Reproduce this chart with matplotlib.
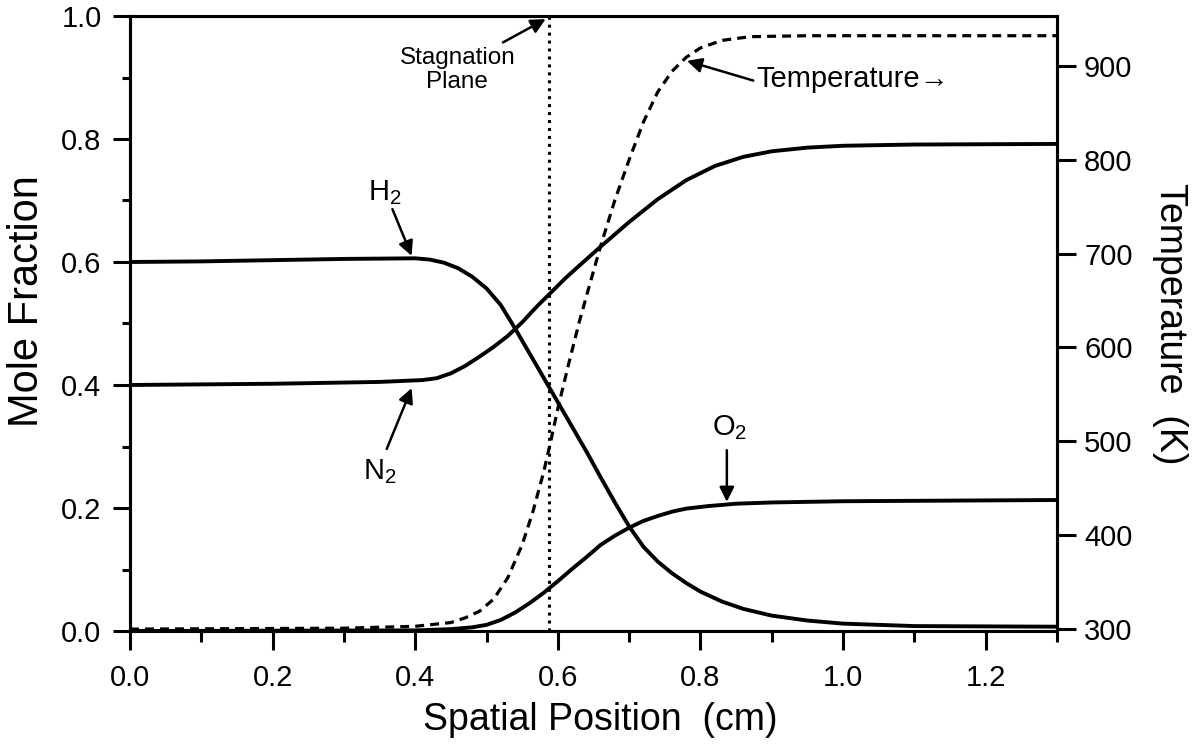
import matplotlib.pyplot as plt
from matplotlib.ticker import MultipleLocator, FormatStrFormatter

# ------------------ data ------------------

# H2 mole fraction
h2_x = [0.00, 0.10, 0.20, 0.30, 0.40, 0.42, 0.44, 0.46, 0.48, 0.50, 0.52, 0.54,
        0.56, 0.58, 0.60, 0.62, 0.64, 0.66, 0.68, 0.70, 0.72, 0.74, 0.76, 0.78,
        0.80, 0.83, 0.86, 0.90, 0.95, 1.00, 1.10, 1.30]
h2_y = [0.600, 0.601, 0.603, 0.605, 0.606, 0.604, 0.599, 0.590, 0.576, 0.557, 0.530, 0.492,
        0.452, 0.412, 0.372, 0.332, 0.292, 0.250, 0.209, 0.170, 0.137, 0.113, 0.094, 0.078,
        0.064, 0.048, 0.036, 0.025, 0.017, 0.012, 0.008, 0.007]

# N2 mole fraction
n2_x = [0.00, 0.20, 0.35, 0.41, 0.43, 0.45, 0.47, 0.49, 0.51, 0.53, 0.55, 0.57,
        0.59, 0.61, 0.63, 0.66, 0.70, 0.74, 0.78, 0.82, 0.86, 0.90, 0.95, 1.00,
        1.10, 1.30]
n2_y = [0.400, 0.402, 0.405, 0.408, 0.411, 0.419, 0.431, 0.446, 0.462, 0.480, 0.502, 0.527,
        0.550, 0.573, 0.594, 0.625, 0.665, 0.702, 0.733, 0.756, 0.771, 0.780, 0.786, 0.789,
        0.791, 0.792]

# O2 mole fraction
o2_x = [0.00, 0.40, 0.45, 0.48, 0.50, 0.52, 0.54, 0.56, 0.58, 0.60, 0.62, 0.64,
        0.66, 0.68, 0.70, 0.72, 0.74, 0.76, 0.78, 0.81, 0.85, 0.90, 1.00, 1.30]
o2_y = [0.000, 0.001, 0.003, 0.006, 0.010, 0.018, 0.030, 0.045, 0.062, 0.081, 0.101, 0.120,
        0.140, 0.155, 0.168, 0.179, 0.187, 0.194, 0.199, 0.203, 0.207, 0.209, 0.211, 0.213]

# temperature (K), right axis
t_x = [0.00, 0.30, 0.40, 0.45, 0.47, 0.49, 0.51, 0.53, 0.55, 0.565, 0.58, 0.59,
       0.60, 0.615, 0.63, 0.645, 0.66, 0.68, 0.70, 0.72, 0.74, 0.76, 0.78, 0.80,
       0.83, 0.87, 0.95, 1.30]
t_y = [300, 301, 303, 307, 312, 319, 332, 355, 390, 425, 467, 500,
       535, 582, 627, 668, 708, 757, 800, 840, 872, 894, 909, 919,
       927, 931, 932, 932]

stagnation_x = 0.588

# ------------------ style ------------------
plt.rcParams['font.family'] = ['Liberation Sans', 'DejaVu Sans']
plt.rcParams['mathtext.fontset'] = 'custom'
plt.rcParams['mathtext.rm'] = 'Liberation Sans'
plt.rcParams['mathtext.it'] = 'Liberation Sans'
plt.rcParams['mathtext.default'] = 'regular'

fig = plt.figure(figsize=(11.96, 7.53), dpi=100)
ax = fig.add_axes([130 / 1196, 1 - 631 / 753, 927 / 1196, 615 / 753])
ax2 = ax.twinx()

lw = 2.8
ax.plot(h2_x, h2_y, color="black", linewidth=lw, solid_joinstyle="round")
ax.plot(n2_x, n2_y, color="black", linewidth=lw, solid_joinstyle="round")
ax.plot(o2_x, o2_y, color="black", linewidth=lw, solid_joinstyle="round")
ax2.plot(t_x, t_y, color="black", linewidth=2.3, linestyle=(0, (2.8, 1.9)))
ax.axvline(stagnation_x, color="black", linewidth=2.2, linestyle=(0, (1, 1.6)))

ax.set_xlim(0, 1.3)
ax.set_ylim(0, 1.0)
ax2.set_ylim(298, 953)

# 축 눈금
ax.xaxis.set_major_locator(MultipleLocator(0.2))
ax.xaxis.set_minor_locator(MultipleLocator(0.1))
ax.yaxis.set_major_locator(MultipleLocator(0.2))
ax.yaxis.set_minor_locator(MultipleLocator(0.1))
ax.xaxis.set_major_formatter(FormatStrFormatter('%.1f'))
ax.yaxis.set_major_formatter(FormatStrFormatter('%.1f'))
ax2.yaxis.set_major_locator(MultipleLocator(100))

ax.tick_params(axis="x", which="major", direction="out", length=14, width=2.2, labelsize=21, pad=10)
ax.tick_params(axis="x", which="minor", direction="out", length=8, width=2.2)
ax.tick_params(axis="y", which="major", direction="out", length=12, width=2.2, labelsize=21, pad=8.5)
ax.tick_params(axis="y", which="minor", direction="out", length=6, width=2.2)
ax.tick_params(axis="y", which="both", right=False)
ax.tick_params(axis="x", which="both", top=False)
ax2.tick_params(which="major", direction="out", length=13.5, width=2.2, labelsize=21, pad=6)
for a in (ax, ax2):
    for sp in a.spines.values():
        sp.set_linewidth(2.2)

ax.set_xlabel("Spatial Position  (cm)", fontsize=27, va="center")
ax.set_ylabel("Mole Fraction", fontsize=30, va="center")
ax2.set_ylabel("Temperature  (K)", fontsize=27, rotation=270, va="center")
ax.xaxis.set_label_coords(0.507, -0.145)
ax.yaxis.set_label_coords(-0.111, 0.537)
ax2.yaxis.set_label_coords(1.122, 0.50)

# 주석
arrow = dict(arrowstyle="-|>", color="black", linewidth=1.8, mutation_scale=22, shrinkA=0, shrinkB=0)

ax.text(0.334, 0.70, "H$_2$", fontsize=21, ha="left", va="baseline")
ax.annotate("", xy=(0.395, 0.61), xytext=(0.368, 0.686), arrowprops=arrow)

ax.text(0.327, 0.247, "N$_2$", fontsize=21, ha="left", va="baseline")
ax.annotate("", xy=(0.395, 0.395), xytext=(0.36, 0.296), arrowprops=arrow)

ax.text(0.816, 0.319, "O$_2$", fontsize=21, ha="left", va="baseline")
ax.annotate("", xy=(0.837, 0.21), xytext=(0.837, 0.294), arrowprops=arrow)

ax.text(0.459, 0.912, "Stagnation\nPlane", fontsize=17.5, ha="center", va="center", linespacing=1.1)
ax.annotate("", xy=(0.583, 0.995), xytext=(0.523, 0.957), arrowprops=arrow)

ax.text(0.879, 0.898, "Temperature\u2192", fontsize=21, ha="left", va="center")
ax.annotate("", xy=(0.781, 0.927), xytext=(0.874, 0.895), arrowprops=arrow)

fig.savefig("out.png", dpi=100)
